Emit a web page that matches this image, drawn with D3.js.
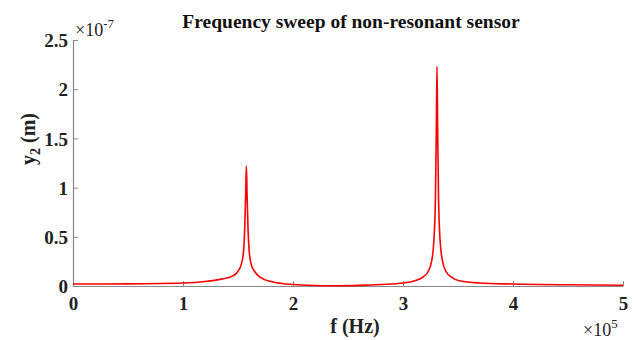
<!DOCTYPE html>
<html>
<head>
<meta charset="utf-8">
<script src="https://cdn.jsdelivr.net/npm/d3@7"></script>
<style>
  body { margin: 0; background: #fff; }
  text { font-family: "Liberation Serif", "Times New Roman", serif; font-weight: bold; }
</style>
</head>
<body>
<div id="chart"></div>
<script>
// frequency in units of 1e5 Hz, displacement in units of 1e-7 m
const freq = [0, 0.5, 1.0, 1.2, 1.35, 1.45, 1.5, 1.53, 1.55, 1.56, 1.57, 1.576, 1.582, 1.592, 1.602, 1.62, 1.65, 1.7, 1.8, 1.9, 2.0, 2.2, 2.4, 2.6, 2.8, 3.0, 3.1, 3.18, 3.23, 3.26, 3.28, 3.295, 3.303, 3.309, 3.315, 3.323, 3.338, 3.36, 3.39, 3.44, 3.52, 3.7, 4.0, 4.5, 5.0]
const y2 = [0.02, 0.022, 0.03, 0.045, 0.07, 0.1, 0.15, 0.22, 0.35, 0.55, 0.95, 1.22, 0.95, 0.55, 0.35, 0.22, 0.15, 0.09, 0.045, 0.025, 0.015, 0.005, 0.002, 0.006, 0.015, 0.03, 0.05, 0.09, 0.15, 0.25, 0.45, 0.9, 1.6, 2.23, 1.6, 0.9, 0.45, 0.25, 0.15, 0.09, 0.05, 0.03, 0.02, 0.012, 0.008]
const x_ticks = [0, 1, 2, 3, 4, 5]
const y_ticks = [0, 0.5, 1, 1.5, 2, 2.5]

let width = 634, height = 340
let margin = {top: 40, right: 11, bottom: 54, left: 73}

let svg = d3.select("#chart").append("svg")
    .attr("width", width)
    .attr("height", height)

let x = d3.scaleLinear().domain([0, 5]).range([margin.left, width - margin.right])
let y = d3.scaleLinear().domain([0, 2.5]).range([height - margin.bottom, margin.top])

// axes, MATLAB style: grey lines, ticks pointing inward
let xAxis = svg.append("g")
    .attr("transform", "translate(0," + y(0) + ")")
    .call(d3.axisBottom(x).tickValues(x_ticks).tickFormat(d => d).tickSizeInner(-5).tickSizeOuter(0).tickPadding(10))
let yAxis = svg.append("g")
    .attr("transform", "translate(" + x(0) + ",0)")
    .call(d3.axisLeft(y).tickValues(y_ticks).tickFormat(d => d).tickSizeInner(-5).tickSizeOuter(0).tickPadding(5))

for (let ax of [xAxis, yAxis]) {
    ax.select(".domain").attr("stroke", "#888").attr("stroke-width", 1.2)
    ax.selectAll(".tick line").attr("stroke", "#888")
    ax.selectAll(".tick text")
        .attr("fill", "#222")
        .style("font-size", "19px")
        .style("font-family", "Liberation Serif")
        .style("font-weight", "bold")
}
xAxis.selectAll(".tick text").attr("dy", "0.75em")
yAxis.selectAll(".tick text").attr("dy", "0.35em")

// the sweep curve
let line = d3.line()
    .x((d, i) => x(freq[i]))
    .y(d => y(d))
    .curve(d3.curveMonotoneX)

svg.append("path")
    .datum(y2)
    .attr("fill", "none")
    .attr("stroke", "#ff0000")
    .attr("stroke-width", 1.6)
    .attr("stroke-linejoin", "round")
    .attr("d", line)

// title
svg.append("text")
    .attr("x", 351)
    .attr("y", 28)
    .attr("text-anchor", "middle")
    .attr("fill", "#111")
    .style("font-size", "19.5px")
    .text("Frequency sweep of non-resonant sensor")

// exponent labels
let yExp = svg.append("text")
    .attr("x", 75)
    .attr("y", 36)
    .attr("fill", "#222")
    .style("font-size", "18px")
    .style("font-weight", "normal")
yExp.append("tspan").text("×10")
yExp.append("tspan").attr("dy", -8).style("font-size", "13px").text("-7")

let xExp = svg.append("text")
    .attr("x", 583)
    .attr("y", 336)
    .attr("fill", "#222")
    .style("font-size", "18px")
    .style("font-weight", "normal")
xExp.append("tspan").text("×10")
xExp.append("tspan").attr("dy", -8).style("font-size", "13px").text("5")

// axis labels
svg.append("text")
    .attr("x", 355)
    .attr("y", 333)
    .attr("text-anchor", "middle")
    .attr("fill", "#222")
    .style("font-size", "20px")
    .text("f (Hz)")

let yLabel = svg.append("text")
    .attr("transform", "translate(35,139) rotate(-90)")
    .attr("text-anchor", "middle")
    .attr("fill", "#222")
    .style("font-size", "20px")
yLabel.append("tspan").text("y")
yLabel.append("tspan").attr("dy", 5).style("font-size", "14px").text("2")
yLabel.append("tspan").attr("dy", -5).text(" (m)")
</script>
</body>
</html>
